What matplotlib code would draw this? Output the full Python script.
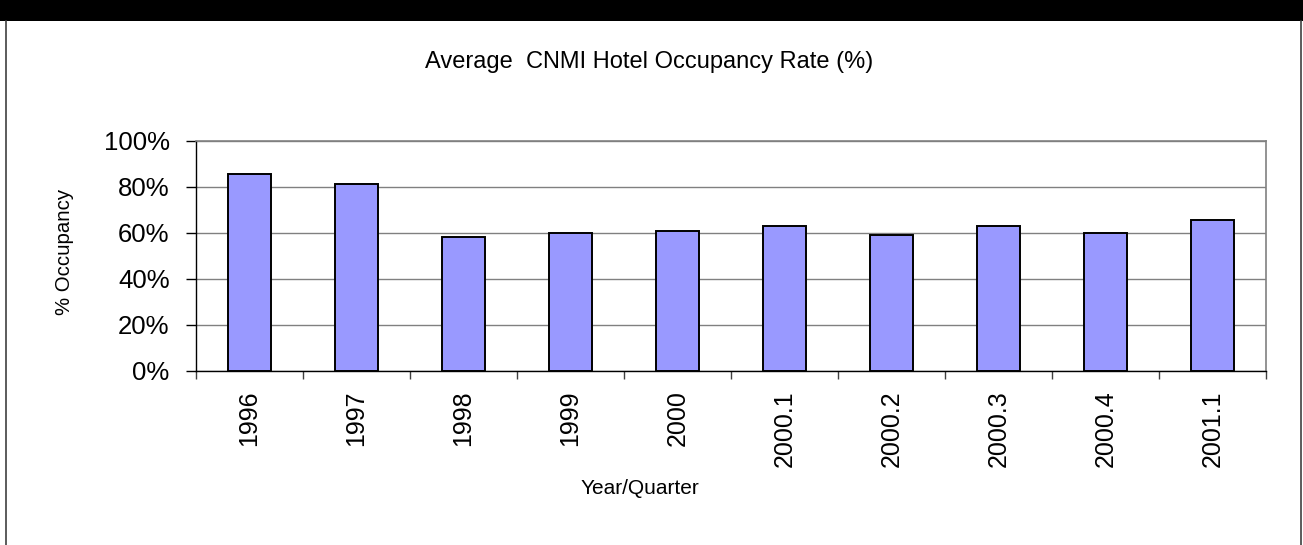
import matplotlib
matplotlib.use('Agg')
import matplotlib.pyplot as plt
from matplotlib.patches import Rectangle
from matplotlib.lines import Line2D
import numpy as np

# data
periods = ['1996', '1997', '1998', '1999', '2000',
           '2000.1', '2000.2', '2000.3', '2000.4', '2001.1']
occupancy = [85.8, 81.4, 58.4, 60.2, 60.9, 63.0, 59.3, 62.9, 60.1, 65.5]
yticks = [0, 20, 40, 60, 80, 100]
ytick_labels = ['0%', '20%', '40%', '60%', '80%', '100%']

plt.rcParams['font.family'] = ['Liberation Sans', 'DejaVu Sans']

fig = plt.figure(figsize=(13.03, 5.45), dpi=100)
W, H = 1303.0, 545.0

# black band at the top and the chart frame
fig.patches.append(Rectangle((0, 1 - 21 / H), 1, 21 / H, transform=fig.transFigure,
                             facecolor='black', edgecolor='none', zorder=0))
fig.lines.append(Line2D([6 / W, 6 / W], [0, 1 - 21 / H], transform=fig.transFigure,
                        color='#404040', lw=1.2))
fig.lines.append(Line2D([1301 / W, 1301 / W], [0, 1 - 21 / H], transform=fig.transFigure,
                        color='#404040', lw=1.2))

ax = fig.add_axes([196 / W, (H - 371) / H, (1266 - 196) / W, 230 / H])

x = np.arange(len(periods))
ax.bar(x, occupancy, width=0.41, color='#9999FF', edgecolor='black', linewidth=1.4, zorder=3)

ax.set_xlim(-0.5, len(periods) - 0.5)
ax.set_ylim(0, 100)
ax.set_yticks(yticks)
ax.set_yticklabels(ytick_labels, fontsize=18.5)
ax.yaxis.grid(True, color='#808080', linewidth=1.0, zorder=0)
ax.set_axisbelow(True)

# x ticks sit on category boundaries, labels centred on the bars
ax.set_xticks(np.arange(len(periods) + 1) - 0.5)
ax.set_xticklabels([])
ax.set_xticks(x, minor=True)
ax.set_xticklabels(periods, minor=True, rotation=90, fontsize=18)
ax.tick_params(axis='x', which='minor', length=0, pad=14)
ax.tick_params(axis='x', which='major', length=6, width=1, color='#404040', direction='out')
ax.tick_params(axis='y', length=7, width=1, color='black', direction='out', pad=12)

for side in ['top', 'right']:
    ax.spines[side].set_color('#808080')
    ax.spines[side].set_linewidth(1.2)
for side in ['left', 'bottom']:
    ax.spines[side].set_color('black')
    ax.spines[side].set_linewidth(1.0)

fig.text(649 / W, 1 - 62 / H, 'Average  CNMI Hotel Occupancy Rate (%)',
         ha='center', va='center', fontsize=17)
fig.text(640 / W, 1 - 489 / H, 'Year/Quarter', ha='center', va='center', fontsize=15)
fig.text(65 / W, 1 - 252 / H, '% Occupancy', ha='center', va='center',
         rotation=90, fontsize=14.7)

fig.savefig('out.png', dpi=100)
